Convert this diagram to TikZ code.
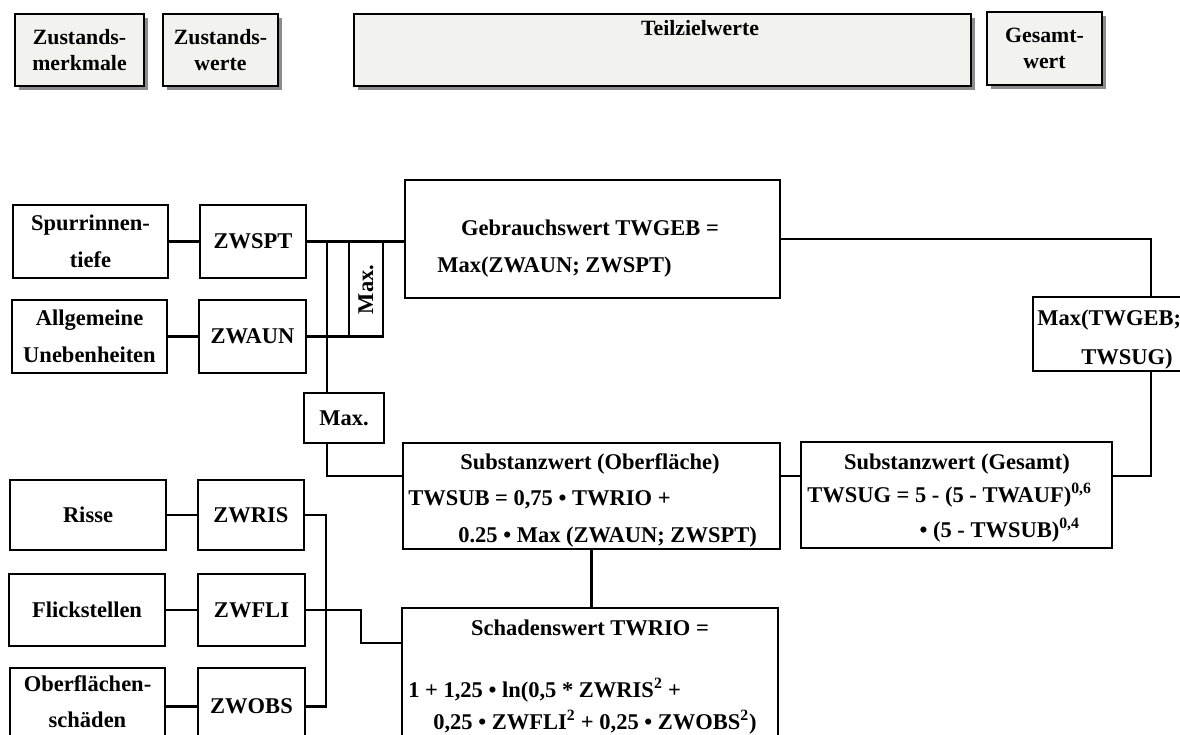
\documentclass[tikz,border=0pt]{standalone}
\usepackage{fontspec}
\setmainfont{Liberation Serif}
\usetikzlibrary{positioning, fit, calc, shadows}

\definecolor{paper}{HTML}{F2F2EE}
\definecolor{shade}{HTML}{8C8C8C}
\newcommand{\boxfont}{\fontsize{16}{26}\selectfont\bfseries}
\newcommand{\headfont}{\fontsize{15.5}{19}\selectfont\bfseries}

\begin{document}
\begin{tikzpicture}[
  x=0.025cm, y=-0.025cm,
  box/.style={draw, line width=1.8pt, inner sep=0pt},
  head/.style={box, fill=paper,
               drop shadow={shadow xshift=0.1cm, shadow yshift=-0.1cm, fill=shade, opacity=1}},
  lbl/.style={inner sep=0pt, align=center, font=\boxfont},
  hlbl/.style={lbl, font=\headfont},
  txt/.style={inner sep=0pt, font=\boxfont, anchor=base},
  conn/.style={line width=1.5pt},
]
  \useasboundingbox (0,0) rectangle (1180,735);
  \clip (0,0) rectangle (1180,735);

  % ── Kopfzeile ──
  \node[head, fit={(15,14) (144,86)}]   (hmerk) {};
  \node[hlbl] (thmerk) at (hmerk) {Zustands-\\merkmale};
  \node[head, fit={(163,14) (278,86)}]  (hwert) {};
  \node[hlbl] (thwert) at (hwert) {Zustands-\\werte};
  \node[head, fit={(354,14) (971,86)}]  (hteil) {};
  \node[txt, font=\headfont] (thteil) at (700,36) {Teilzielwerte};
  \node[head, fit={(987,12) (1102,85)}] (hges) {};
  \node[hlbl] (thges) at (hges) {Gesamt-\\wert};

  % ── Zustandsmerkmale und Zustandswerte ──
  \node[box, fit={(13,205) (168,278)}]  (spur)  {};
  \node[lbl] (tspur) at (spur) {Spurrinnen-\\tiefe};
  \node[box, fit={(200,205) (306,278)}] (zwspt) {};
  \node[lbl] (tzwspt) at (zwspt) {ZWSPT};
  \node[box, fit={(12,300) (167,373)}]  (aun)   {};
  \node[lbl] (taun) at (aun) {Allgemeine\\Unebenheiten};
  \node[box, fit={(199,300) (306,373)}] (zwaun) {};
  \node[lbl] (tzwaun) at (zwaun) {ZWAUN};
  \node[box, fit={(10,480) (166,550)}]  (ris)   {};
  \node[lbl] (tris) at (ris) {Risse};
  \node[box, fit={(198,480) (304,550)}] (zwris) {};
  \node[lbl] (tzwris) at (zwris) {ZWRIS};
  \node[box, fit={(9,574) (165,646)}]   (fli)   {};
  \node[lbl] (tfli) at (fli) {Flickstellen};
  \node[box, fit={(198,574) (305,646)}] (zwfli) {};
  \node[lbl] (tzwfli) at (zwfli) {ZWFLI};
  \node[box, fit={(10,668) (165,745)}]  (obs)   {};
  \node[lbl] (tobs) at ($(obs)+(0,-5)$) {Oberflächen-\\schäden};
  \node[box, fit={(198,668) (305,745)}] (zwobs) {};
  \node[lbl] (tzwobs) at (zwobs) {ZWOBS};

  % ── Max.-Knoten ──
  \node[box, fit={(349,242) (383,337)}] (maxv) {};
  \node[lbl, rotate=90] (tmaxv) at (maxv) {Max.};
  \node[box, fit={(304,393) (384,443)}] (maxh) {};
  \node[lbl] (tmaxh) at (maxh) {Max.};

  % ── Teilzielwerte ──
  \node[box, fit={(405,180) (780,298)}] (geb) {};
  \node[txt] (geb1) at (590,236) {Gebrauchswert TWGEB =};
  \node[txt, anchor=base west] (geb2) at (437,273) {Max(ZWAUN; ZWSPT)};

  \node[box, fit={(403,443) (780,549)}] (sob) {};
  \node[txt] (sob1) at (590,469) {Substanzwert (Oberfläche)};
  \node[txt, anchor=base west] (sob2) at (408,505) {TWSUB = 0,75 • TWRIO +};
  \node[txt, anchor=base west] (sob3) at (458,542) {0.25 • Max (ZWAUN; ZWSPT)};

  \node[box, fit={(402,608) (778,760)}] (sch) {};
  \node[txt] (sch1) at (590,635) {Schadenswert TWRIO =};
  \node[txt, anchor=base west] (sch2) at (408,697)
    {1 + 1,25 • ln(0,5 * ZWRIS\textsuperscript{2} +};
  \node[txt, anchor=base west] (sch3) at (433,729)
    {0,25 • ZWFLI\textsuperscript{2} + 0,25 • ZWOBS\textsuperscript{2})};

  \node[box, fit={(801,442) (1112,548)}] (sgs) {};
  \node[txt] (sgs1) at (957,470) {Substanzwert (Gesamt)};
  \node[txt, anchor=base west] (sgs2) at (807,502) {TWSUG = 5 - (5 - TWAUF)\textsuperscript{0,6}};
  \node[txt, anchor=base east] (sgs3) at (1080,537) {• (5 - TWSUB)\textsuperscript{0,4}};

  % ── Gesamtwert ──
  \node[box, fit={(1033,297) (1186,371)}] (mges) {};
  \node[txt, anchor=base west] (mges1) at (1037,325) {Max(TWGEB;};
  \node[txt, anchor=base east] (mges2) at (1173,364) {TWSUG)};

  % ══ Verbindungen ══
  \coordinate (jmax) at ($(zwspt.east)+(20,0)$);
  \coordinate (jsub) at ($(sob.north west)+(0,34)$);

  \draw[conn] (spur) -- (zwspt);
  \draw[conn] (aun) -- (zwaun);
  \draw[conn] (ris) -- (zwris);
  \draw[conn] (fli) -- (zwfli);
  \draw[conn] (obs) -- (zwobs);

  % ZWSPT / ZWAUN -> Max. -> Teilzielwerte
  \draw[conn] (zwspt.east) -- (zwspt.east -| geb.west);
  \draw[conn] (zwaun.east) -- (zwaun.east -| maxv.east);
  \draw[conn] (jmax) -- (jmax |- maxh.north);
  \draw[conn] (jmax |- maxh.south) |- (jsub);

  % Substanzwerte
  \draw[conn] (jsub -| sob.east) -- (jsub -| sgs.west);
  \draw[conn] (sob.south) -- (sob.south |- sch.north);

  % Gesamtwert
  \draw[conn] (geb.east) -| ($(mges.north west)+(119,0)$);
  \draw[conn] ($(mges.south west)+(119,0)$) |- (jsub -| sgs.east);

  % Risse, Flickstellen, Oberflächenschäden -> Schadenswert
  \draw[conn] (zwris.east) -- ++(21,0) |- (zwobs.east);
  \draw[conn] (zwfli.east) -- ++(55,0) |- ($(sch.north west)+(0,36)$);
\end{tikzpicture}
\end{document}
